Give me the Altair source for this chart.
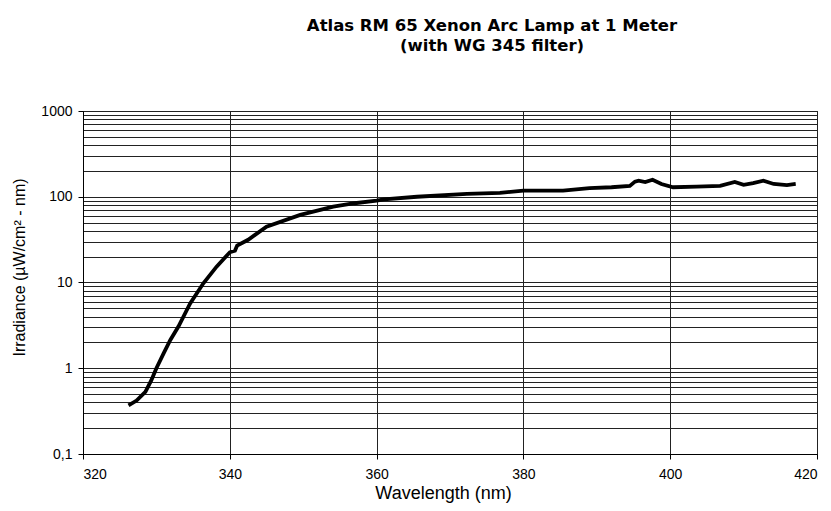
import altair as alt
import pandas as pd

# Spectrum
wavelength_nm = [326.2, 327.3, 328.5, 329.3, 330.0, 331.0, 331.9, 333.0, 334.6, 336.4,
                 338.2, 340.0, 340.7, 341.0, 342.5, 345.0, 349.6, 354.1, 357.0, 360.0,
                 361.0, 365.5, 372.3, 376.8, 380.0, 385.4, 389.0, 392.0, 394.5, 395.2,
                 395.7, 396.6, 397.6, 398.8, 400.4, 403.6, 406.8, 408.8, 410.0, 411.3,
                 412.7, 414.1, 415.9, 417.1]
irradiance = [0.37, 0.42, 0.53, 0.72, 1.0, 1.5, 2.14, 3.06, 5.7, 9.8,
              15.3, 22.5, 23.5, 27.0, 31.5, 44.8, 61.4, 76.7, 84.0, 90.0,
              93.0, 100.0, 108.0, 111.0, 118.0, 118.0, 126.0, 129.0, 134.0, 150.0,
              154.0, 148.0, 158.0, 141.0, 129.0, 131.0, 134.0, 149.0, 138.0, 144.0,
              154.0, 141.0, 137.0, 141.0]

x_ticks = [320, 340, 360, 380, 400, 420]
y_grid = [m * 10 ** e for e in range(-1, 3) for m in range(1, 10)] + [1000]

title_lines = ["Atlas RM 65 Xenon Arc Lamp at 1 Meter", "(with WG 345 filter)"]
x_title = "Wavelength (nm)"
y_title = "Irradiance (µW/cm² - nm)"

df = pd.DataFrame({"wavelength": wavelength_nm, "irradiance": irradiance})

FONT = "Liberation Sans"
decade_test = "abs(log(datum.value)/LN10 - round(log(datum.value)/LN10)) < 0.001"

chart = alt.Chart(df).mark_line(color="black", strokeWidth=3.8).encode(
    x=alt.X(
        "wavelength:Q",
        scale=alt.Scale(domain=[320, 420], nice=False, zero=False),
        axis=alt.Axis(
            values=x_ticks, format="d", title=x_title, grid=True,
            gridColor="#222", gridWidth=1, domainColor="black",
            tickColor="black", tickSize=5, labelPadding=8,
            labelFont=FONT, labelFontSize=14, labelColor="black",
            titleFont=FONT, titleFontSize=18, titleFontWeight="normal",
            titleColor="black", titlePadding=3, titleX=360,
        ),
    ),
    y=alt.Y(
        "irradiance:Q",
        scale=alt.Scale(type="log", domain=[0.1, 1000], nice=False),
        axis=alt.Axis(
            values=y_grid, title=y_title, grid=True,
            gridColor="#222", gridWidth=1, domainColor="black",
            tickColor="black", tickSize=5, labelPadding=6,
            tickOpacity={"condition": {"test": decade_test, "value": 1}, "value": 0},
            labelExpr="datum.value < 0.15 ? '0,1' : (" + decade_test + " ? format(datum.value, 'd') : '')",
            labelOverlap=False, labelFont=FONT, labelFontSize=14, labelColor="black",
            titleFont=FONT, titleFontSize=16, titleFontWeight="normal",
            titleColor="black", titlePadding=13, titleY=156,
        ),
    ),
).properties(
    width=734,
    height=343,
    title=alt.TitleParams(
        text=title_lines, font="DejaVu Sans", fontSize=16.5, fontWeight="bold",
        color="black", anchor="middle", frame="group", dx=42,
        offset=50, lineHeight=20,
    ),
    padding={"left": 75, "top": 103, "right": 6, "bottom": 49},
    autosize=alt.AutoSizeParams(type="none"),
).configure_view(stroke="black", strokeWidth=1)

chart.save("out.html", embed_options={"renderer": "svg", "actions": False})
